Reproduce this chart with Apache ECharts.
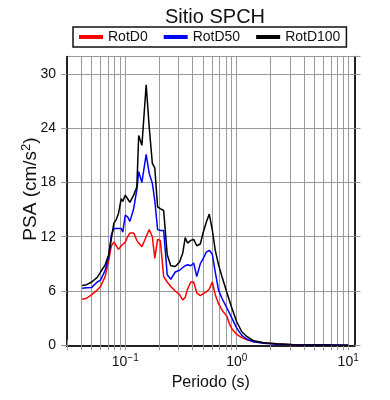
<!DOCTYPE html>
<html><head><meta charset="utf-8">
<script src="https://cdn.jsdelivr.net/npm/echarts@6/dist/echarts.min.js"></script>
<style>html,body{margin:0;padding:0;background:#fff}#c{width:390px;height:400px}</style>
</head><body><div id="c"></div>
<script>
const titleText = 'Sitio SPCH';
const seriesNames = ['RotD0', 'RotD50', 'RotD100'];
const periods = [0.041,0.045,0.050,0.056,0.060,0.066,0.071,0.075,0.079,0.083,0.087,0.092,0.095,0.100,0.105,0.110,0.119,0.127,0.132,0.141,0.154,0.164,0.175,0.184,0.195,0.206,0.221,0.238,0.256,0.281,0.307,0.328,0.345,0.362,0.387,0.411,0.438,0.471,0.501,0.533,0.567,0.603,0.642,0.687,0.737,0.817,0.857,0.906,1.00,1.11,1.24,1.42,1.74,2.31,3.23,4.56,6.90,10.0];
const rotD100 = [6.6,6.7,7.0,7.5,8.1,8.9,10.0,11.8,13.5,13.9,14.6,16.2,15.9,16.6,16.2,15.8,16.6,17.5,23.2,22.1,28.8,24.1,20.1,19.6,15.3,15.1,14.9,10.0,8.8,8.7,9.2,10.2,11.9,11.3,11.6,11.7,11.0,11.2,12.5,13.6,14.5,12.8,10.5,8.9,7.6,5.8,5.0,4.1,2.6,1.5,0.95,0.5,0.29,0.17,0.07,0.04,0.02,0.01];
const rotD50 = [6.3,6.35,6.4,7.0,7.2,8.3,9.8,12.2,12.9,12.9,12.9,12.9,12.5,14.4,14.2,13.7,15.1,17.2,19.2,18.0,21.1,19.0,17.9,16.0,12.8,12.7,12.7,7.8,7.3,8.1,8.3,8.6,8.8,8.9,8.8,9.1,7.6,9.0,9.6,10.3,10.5,10.1,8.1,6.1,5.2,4.1,3.6,3.0,1.9,1.1,0.66,0.4,0.22,0.12,0.06,0.03,0.02,0.01];
const rotD0 = [5.1,5.2,5.6,6.1,6.5,7.6,9.4,11.0,11.4,11.0,10.6,11.0,11.1,11.4,12.0,12.4,12.4,11.6,11.3,10.9,12.0,12.8,12.0,9.6,11.7,11.6,7.6,7.0,6.5,6.0,5.6,5.0,5.3,6.2,7.0,7.0,5.8,5.5,5.7,5.9,6.2,7.0,5.6,4.6,3.9,3.2,2.4,1.8,1.2,0.85,0.6,0.4,0.27,0.14,0.07,0.04,0.02,0.01];
const xMin = 0.03, xMax = 11.4;
const yMin = 0, yMax = 31.9, yStep = 6;
const xLabelValues = [0.1, 1, 10];
const seriesColors = ['#ff0000', '#0000ff', '#000000'];

const xTickValues = [];
for (let n = -2; n <= 1; n++) {
  for (let k = 1; k <= 9; k++) {
    const v = +(k * Math.pow(10, n)).toPrecision(6);
    if (v >= xMin && v <= xMax) xTickValues.push(v);
  }
}
const FONT = 'Liberation Sans, Arial, Helvetica, sans-serif';
const gridColor = '#9a9a9a';
const frameColor = '#222';

function supLabel(v) {
  const e = Math.round(Math.log10(v));
  return '{b|10}{s|' + (e < 0 ? '\u2212' + (-e) : e) + '}';
}

const chart = echarts.init(document.getElementById('c'));
const valuesBySeries = [rotD0, rotD50, rotD100];
chart.setOption({
  animation: false,
  backgroundColor: '#fff',
  title: {
    text: titleText, left: 160, top: 2,
    textStyle: { fontFamily: FONT, fontSize: 20, fontWeight: 'normal', color: '#111' }
  },
  legend: {
    data: seriesNames, left: 73, top: 27, padding: [3, 6],
    itemGap: 16, itemWidth: 24, itemHeight: 4, icon: 'rect',
    borderColor: '#111', borderWidth: 1.5, backgroundColor: '#fff',
    textStyle: { fontFamily: FONT, fontSize: 14, color: '#111' }
  },
  grid: { left: 67, right: 35.5, top: 56.7, bottom: 54.7, containLabel: false },
  graphic: [{
    type: 'text', x: 31, y: 189, rotation: Math.PI / 2,
    style: {
      text: '{n|PSA (cm/s}{s|2}{n|)}', align: 'center', verticalAlign: 'middle',
      rich: {
        n: { fontFamily: FONT, fontSize: 19, fill: '#111', lineHeight: 22 },
        s: { fontFamily: FONT, fontSize: 13, fill: '#111', lineHeight: 14, verticalAlign: 'top' }
      }
    }
  }],
  xAxis: [{
    type: 'log', position: 'bottom', min: xMin, max: xMax,
    name: 'Periodo (s)', nameLocation: 'middle', nameGap: 28,
    nameTextStyle: { fontFamily: FONT, fontSize: 16, color: '#111' },
    axisLine: { show: true, lineStyle: { color: frameColor, width: 2 } },
    axisTick: { show: true, inside: false, length: 5, customValues: xTickValues, lineStyle: { color: gridColor, width: 1 } },
    axisLabel: {
      show: true, customValues: xLabelValues, margin: 8, formatter: supLabel,
      rich: {
        b: { fontFamily: FONT, fontSize: 14, color: '#111', lineHeight: 18 },
        s: { fontFamily: FONT, fontSize: 10, color: '#111', lineHeight: 12, verticalAlign: 'top' }
      }
    },
    splitLine: { show: true, lineStyle: { color: gridColor, width: 1 } },
    minorTick: { show: false }, minorSplitLine: { show: false }
  }, {
    type: 'log', position: 'top', min: xMin, max: xMax,
    axisLine: { show: true, lineStyle: { color: frameColor, width: 2 } },
    axisTick: { show: true, inside: false, length: 5, customValues: xTickValues, lineStyle: { color: gridColor, width: 1 } },
    axisLabel: { show: false },
    splitLine: { show: false }
  }],
  yAxis: [{
    type: 'value', position: 'left', min: yMin, max: yMax, interval: yStep,
    axisLine: { show: true, lineStyle: { color: frameColor, width: 2 } },
    axisTick: { show: true, inside: false, length: 6, lineStyle: { color: gridColor, width: 1 } },
    axisLabel: { show: true, margin: 11, fontFamily: FONT, fontSize: 14, color: '#111', showMaxLabel: false },
    splitLine: { show: true, lineStyle: { color: gridColor, width: 1 } }
  }, {
    type: 'value', position: 'right', min: yMin, max: yMax, interval: yStep,
    axisLine: { show: true, lineStyle: { color: frameColor, width: 2 } },
    axisTick: { show: true, inside: false, length: 6, lineStyle: { color: gridColor, width: 1 } },
    axisLabel: { show: false },
    splitLine: { show: false }
  }],
  series: seriesNames.map((name, i) => ({
    name, type: 'line', xAxisIndex: 0, yAxisIndex: 0,
    data: periods.map((p, j) => [p, valuesBySeries[i][j]]),
    showSymbol: false, symbol: 'none',
    lineStyle: { color: seriesColors[i], width: 1.5 },
    itemStyle: { color: seriesColors[i] },
    z: 3 + i
  }))
});
</script></body></html>
